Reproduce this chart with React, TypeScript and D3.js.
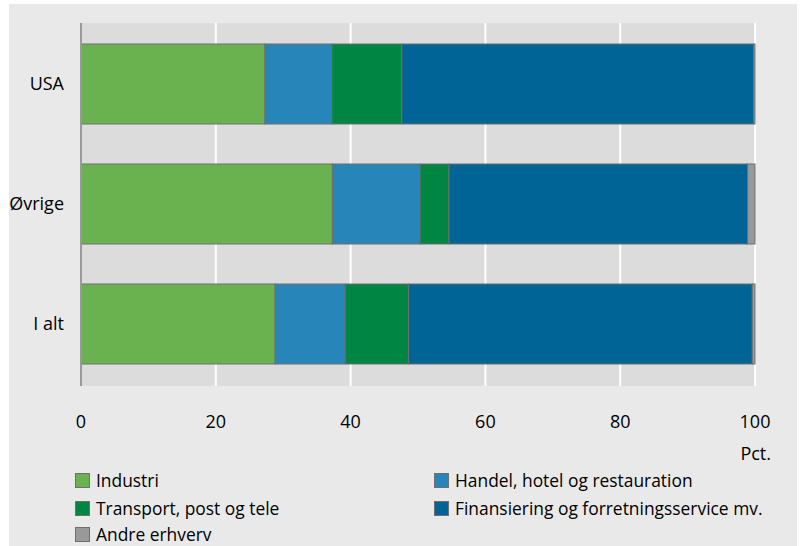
import React from "react";
import * as d3 from "d3";

const categories = ["USA", "Øvrige", "I alt"];
const seriesNames = [
  "Industri",
  "Handel, hotel og restauration",
  "Transport, post og tele",
  "Finansiering og forretningsservice mv.",
  "Andre erhverv",
];
const industri = [27.3, 37.3, 28.8];
const handel = [9.9, 13.0, 10.4];
const transport = [10.4, 4.3, 9.4];
const finansiering = [52.2, 44.3, 51.0];
const andre = [0.2, 1.1, 0.4];
const colors = ["#6ab150", "#2785b9", "#008542", "#006496", "#999999"];
const xTicks = [0, 20, 40, 60, 80, 100];

const W = 800;
const H = 546;
const FONT = "'Open Sans', 'Noto Sans', sans-serif";

export default function App() {
  const x = d3.scaleLinear().domain([0, 100]).range([81, 755]);
  const y = d3
    .scaleBand<string>()
    .domain(categories)
    .range([24, 384])
    .paddingInner(1 / 3)
    .paddingOuter(1 / 6);

  const rows = categories.map((c, i) => ({
    cat: c,
    Industri: industri[i],
    "Handel, hotel og restauration": handel[i],
    "Transport, post og tele": transport[i],
    "Finansiering og forretningsservice mv.": finansiering[i],
    "Andre erhverv": andre[i],
  }));
  const stacked = d3.stack<any>().keys(seriesNames)(rows);

  const legendPos = [
    { x: 75, y: 487 },
    { x: 434, y: 487 },
    { x: 75, y: 515 },
    { x: 434, y: 515 },
    { x: 75, y: 541 },
  ];

  return (
    <svg
      width={W}
      height={H}
      style={{ position: "absolute", left: 0, top: 0, display: "block" }}
      fontFamily={FONT}
    >
      <rect x={9} y={4} width={788} height={H - 4} fill="#e9e9e9" />
      <rect x={81} y={23} width={674} height={363} fill="#dcdcdc" />
      {xTicks.map((t) => (
        <line
          key={"g" + t}
          x1={x(t)}
          x2={x(t)}
          y1={23}
          y2={386}
          stroke="#ffffff"
          strokeWidth={2}
        />
      ))}
      {stacked.map((s, si) =>
        s.map((d, i) => (
          <rect
            key={si + "-" + i}
            x={x(d[0])}
            y={y(categories[i])}
            width={Math.max(0, x(d[1]) - x(d[0]))}
            height={y.bandwidth()}
            fill={colors[si]}
            stroke="#6f6f6f"
            strokeWidth={1}
          />
        ))
      )}
      <line x1={81} x2={81} y1={23} y2={386} stroke="#999999" strokeWidth={2} />
      {categories.map((c) => (
        <text
          key={c}
          x={64}
          y={(y(c) as number) + y.bandwidth() / 2}
          dy="0.36em"
          textAnchor="end"
          fontSize={18}
          fill="#000"
        >
          {c}
        </text>
      ))}
      {xTicks.map((t) => (
        <text
          key={"t" + t}
          x={x(t)}
          y={428}
          textAnchor="middle"
          fontSize={18}
          fill="#000"
        >
          {t}
        </text>
      ))}
      <text x={771} y={460} textAnchor="end" fontSize={18} fill="#000">
        Pct.
      </text>
      {seriesNames.map((name, si) => {
        const p = legendPos[si];
        return (
          <g key={"l" + si}>
            <rect
              x={p.x + 0.5}
              y={p.y - 13.5}
              width={14}
              height={14}
              fill={colors[si]}
              stroke="#6f6f6f"
              strokeWidth={1}
            />
            <text x={p.x + 21} y={p.y} fontSize={17.4} fill="#000">
              {name}
            </text>
          </g>
        );
      })}
    </svg>
  );
}
